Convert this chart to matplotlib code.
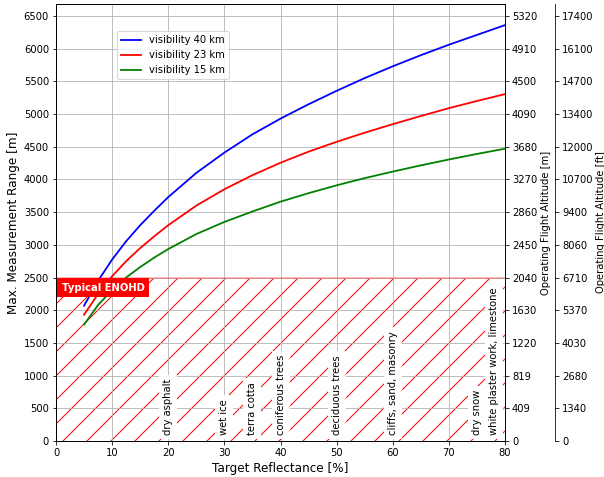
import matplotlib.pyplot as plt

# values
reflectance = [5, 7.5, 10, 12.5, 15, 17.5, 20, 25, 30, 35, 40, 45, 50, 55, 60, 65, 70, 75, 80]
range_vis40 = [2070, 2450, 2775, 3055, 3300, 3520, 3730, 4100, 4410, 4690, 4930, 5150, 5355, 5550, 5730, 5900, 6060, 6210, 6360]
range_vis23 = [1930, 2250, 2520, 2750, 2950, 3130, 3300, 3600, 3850, 4065, 4255, 4425, 4575, 4715, 4845, 4970, 5090, 5200, 5305]
range_vis15 = [1780, 2080, 2310, 2500, 2660, 2805, 2935, 3165, 3350, 3510, 3660, 3790, 3910, 4020, 4120, 4215, 4305, 4390, 4470]

enohd = 2500

target_names = ['dry asphalt', 'wet ice', 'terra cotta', 'coniferous trees', 'deciduous trees',
                'cliffs, sand, masonry', 'dry snow', 'white plaster work, limestone']
target_reflectance = [20, 30, 35, 40, 50, 60, 75, 78]

range_ticks = list(range(0, 7000, 500))
altitude_m_labels = ['0', '409', '819', '1220', '1630', '2040', '2450', '2860', '3270',
                     '3680', '4090', '4500', '4910', '5320']
altitude_ft_labels = ['0', '1340', '2680', '4030', '5370', '6710', '8060', '9400', '10700',
                      '12000', '13400', '14700', '16100', '17400']

plt.rcParams['figure.dpi'] = 72
plt.rcParams['savefig.dpi'] = 72

W, H = 604, 477
fig = plt.figure(figsize=(W / 72, H / 72), dpi=72)
ax = fig.add_axes([56 / W, 36 / H, 449 / W, 437 / H])

ax.plot(reflectance, range_vis40, color='blue', lw=1.8, label='visibility 40 km')
ax.plot(reflectance, range_vis23, color='red', lw=1.8, label='visibility 23 km')
ax.plot(reflectance, range_vis15, color='green', lw=1.8, label='visibility 15 km')

# eye hazard zone
ax.axhspan(0, enohd, facecolor='none', edgecolor='red', hatch='/', lw=0)
ax.axhline(enohd, color='red', alpha=0.3, lw=1.8)
ax.text(1, 2340, 'Typical ENOHD', color='white', fontsize=10, fontweight='bold',
        ha='left', va='center', bbox=dict(facecolor='red', edgecolor='none', boxstyle='square,pad=0.45'))

for name, x in zip(target_names, target_reflectance):
    ax.text(x, 90, name, rotation=90, fontsize=10, ha='center', va='bottom',
            bbox=dict(facecolor='white', edgecolor='none', boxstyle='square,pad=0.4'))

ax.set_xlim(0, 80)
ax.set_ylim(0, 6683)
ax.set_yticks(range_ticks)
ax.tick_params(labelsize=10)
ax.grid(True, color='#b0b0b0', lw=0.8)
ax.set_xlabel('Target Reflectance [%]', fontsize=12)
ax.set_ylabel('Max. Measurement Range [m]', fontsize=12)
ax.legend(loc='upper left', bbox_to_anchor=(0.136, 0.938), borderaxespad=0, fontsize=10)

ax_m = ax.twinx()
ax_m.set_ylim(ax.get_ylim())
ax_m.set_yticks(range_ticks)
ax_m.set_yticklabels(altitude_m_labels)
ax_m.tick_params(labelsize=10)
ax_m.set_ylabel('Operating Flight Altitude [m]', fontsize=10, labelpad=4)

ax_ft = ax.twinx()
ax_ft.spines['right'].set_position(('outward', 50))
ax_ft.set_ylim(ax.get_ylim())
ax_ft.set_yticks(range_ticks)
ax_ft.set_yticklabels(altitude_ft_labels)
ax_ft.tick_params(labelsize=10)
ax_ft.set_ylabel('Operating Flight Altitude [ft]', fontsize=10, labelpad=2)

fig.savefig('out.png', dpi=72)
